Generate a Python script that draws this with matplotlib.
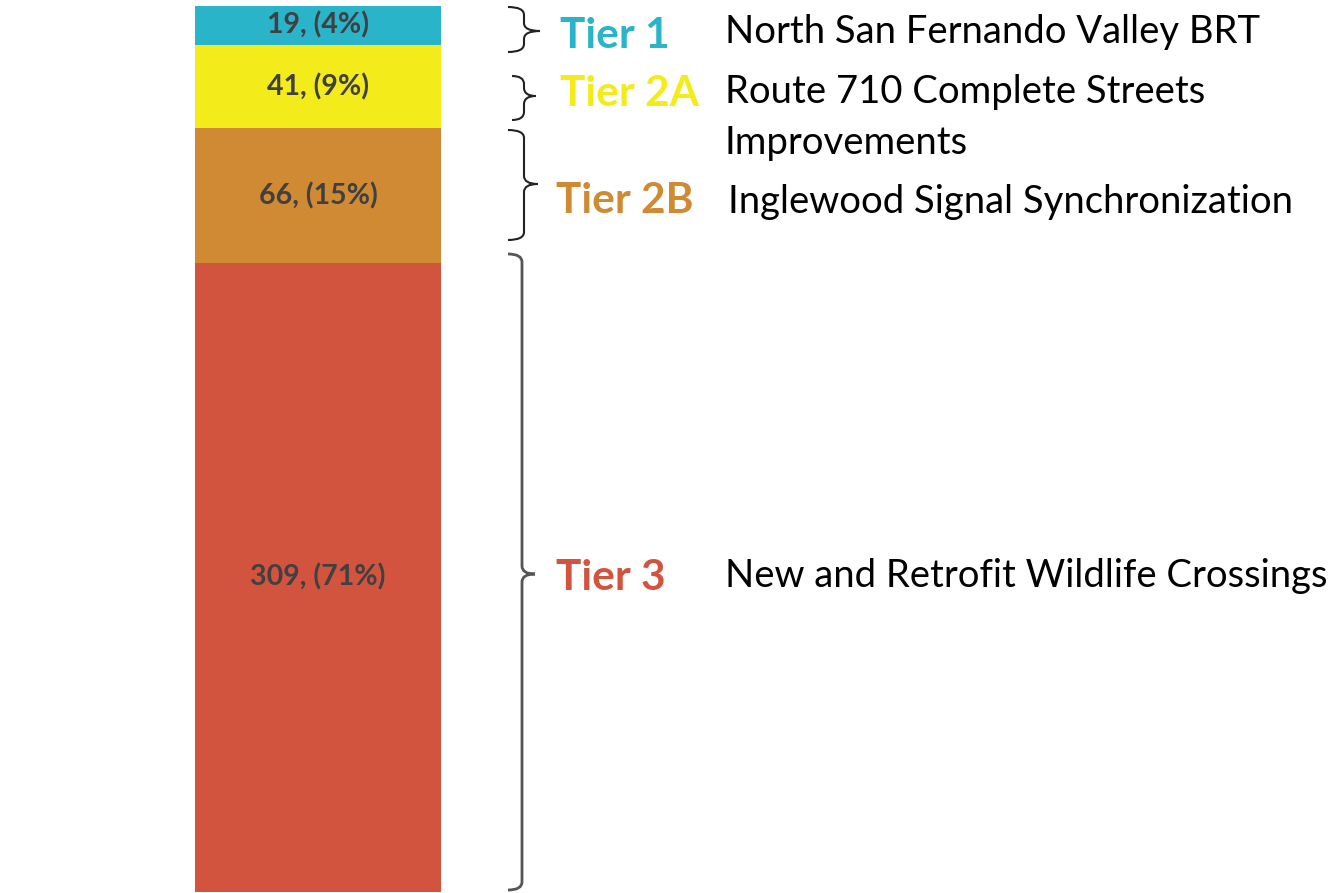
import matplotlib
matplotlib.use("Agg")
import matplotlib.pyplot as plt
from matplotlib.path import Path
from matplotlib.patches import PathPatch

plt.rcParams['font.family'] = ['Lato', 'DejaVu Sans']

# data
tiers = ['Tier 1', 'Tier 2A', 'Tier 2B', 'Tier 3']
counts = [19, 41, 66, 309]
pcts = [4, 9, 15, 71]
projects = ['North San Fernando Valley BRT',
            'Route 710 Complete Streets\nImprovements',
            'Inglewood Signal Synchronization',
            'New and Retrofit Wildlife Crossings']
colors = ['#2AB4C9', '#F4EC1A', '#CF8A33', '#D2533E']

W, H = 1343, 893
fig = plt.figure(figsize=(W / 100, H / 100), dpi=100)

# stacked bar, Tier 1 on top
ax = fig.add_axes([195 / W, 1 - 892 / H, (441 - 195) / W, (892 - 6) / H])
bottom = 0
for i in range(len(tiers) - 1, -1, -1):
    ax.bar(0, counts[i], bottom=bottom, width=1, color=colors[i])
    ax.text(0, bottom + counts[i] / 2, f'{counts[i]}, ({pcts[i]}%)',
            ha='center', va='center', fontsize=20.5, fontweight='bold', color='#404040')
    bottom += counts[i]
ax.set_xlim(-0.5, 0.5)
ax.set_ylim(0, sum(counts))
ax.axis('off')

# overlay in pixel coords for braces and labels
ov = fig.add_axes([0, 0, 1, 1])
ov.set_xlim(0, W)
ov.set_ylim(H, 0)
ov.axis('off')


def brace(y0, y1, ym, xl, xv, xt, lw=1.5, color='#222222'):
    r = min(8, (y1 - y0) / 4)
    verts = [(xl, y0), (xv, y0), (xv, y0 + r),
             (xv, ym - r), (xv, ym), (xt, ym),
             (xv, ym), (xv, ym + r),
             (xv, y1 - r), (xv, y1), (xl, y1)]
    codes = [Path.MOVETO, Path.CURVE3, Path.CURVE3,
             Path.LINETO, Path.CURVE3, Path.CURVE3,
             Path.CURVE3, Path.CURVE3,
             Path.LINETO, Path.CURVE3, Path.CURVE3]
    ov.add_patch(PathPatch(Path(verts, codes), fill=False, lw=lw, ec=color))


braces = [(7, 52, 31, 508, 524, 540),
          (76, 120, 96, 512, 524, 536),
          (130, 240, 184, 508, 524, 538),
          (254, 890, 574, 508, 522, 535)]
label_y = [36, 94, 201, 578]
label_x = [560, 560, 556, 556]
proj_xy = [(725, 32), (725, 92), (728, 202), (725, 576)]

for i in range(len(tiers)):
    y0, y1, ym, xl, xv, xt = braces[i]
    brace(y0, y1, ym, xl, xv, xt, lw=1.5 if i < 3 else 2,
          color='#222222' if i < 3 else '#555555')
    ov.text(label_x[i], label_y[i], tiers[i], ha='left', va='center',
            fontsize=30.5, fontweight='bold', color=colors[i])
    px, py = proj_xy[i]
    for k, line in enumerate(projects[i].split('\n')):
        ov.text(px, py + 51 * k, line, ha='left', va='center', fontsize=27.5, color='black')

fig.savefig('out.png', dpi=100)
